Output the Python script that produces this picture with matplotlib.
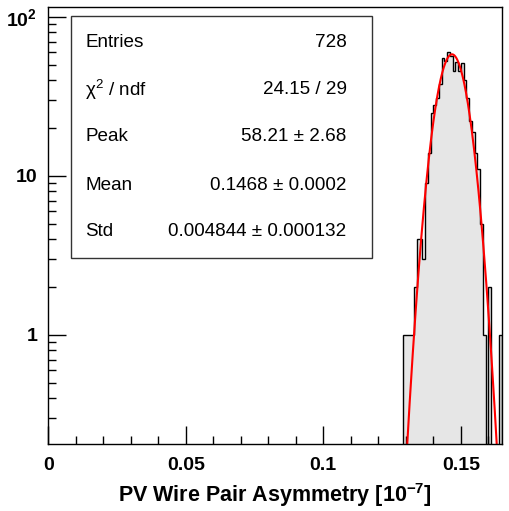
import numpy as np
import matplotlib
matplotlib.use("Agg")
from matplotlib import pyplot as plt
from matplotlib.patches import Rectangle
from matplotlib.ticker import FixedLocator, FixedFormatter, NullFormatter

plt.rcParams['font.family'] = ['Liberation Sans', 'DejaVu Sans']
plt.rcParams['mathtext.fontset'] = 'custom'
plt.rcParams['mathtext.rm'] = 'Liberation Sans'
plt.rcParams['mathtext.it'] = 'Liberation Sans:italic'
plt.rcParams['mathtext.bf'] = 'Liberation Sans:bold'

# histogram: bins of width 0.001 starting at 0.129
bin_start = 0.129
bin_width = 0.001
counts = [1, 1, 1, 1, 2, 4, 4, 3, 9, 14, 25, 28, 31, 38, 55, 53, 60, 57,
          46, 52, 46, 51, 40, 31, 22, 19, 14, 11, 5, 1, 0, 2, 0, 0, 0, 1]

# fit / stats box
peak, mean, std = 58.21, 0.1468, 0.004844
stat_names = ["Entries", "χ$^{2}$ / ndf", "Peak", "Mean", "Std"]
stat_values = ["728", "24.15 / 29", "58.21 ± 2.68", "0.1468 ± 0.0002",
               "0.004844 ± 0.000132"]

x_ticks = [0, 0.05, 0.1, 0.15]
x_tick_labels = ["0", "0.05", "0.1", "0.15"]
y_ticks = [1, 10, 100]
y_tick_labels = ["1", "10", r"10$^{\mathbf{2}}$"]


def main():
    counts_arr = np.array(counts, dtype=float)
    edges = bin_start + bin_width * np.arange(len(counts) + 1)
    draw_vals = np.where(counts_arr > 0, counts_arr, 1e-3)

    fig = plt.figure(figsize=(5.09, 5.11), dpi=100)
    ax = fig.add_axes([0.0949, 0.1305, 0.8914, 0.8564])

    ax.stairs(draw_vals, edges, baseline=1e-3, fill=True, color='#e6e6e6')
    ax.stairs(draw_vals, edges, baseline=1e-3, fill=False, color='black', lw=1.0)

    xf = np.linspace(edges[0], edges[-1], 400)
    yf = peak * np.exp(-0.5 * ((xf - mean) / std) ** 2)
    ax.plot(xf, yf, color='red', lw=1.5)

    ax.set_yscale('log')
    ax.set_xlim(0, 0.165)
    ax.set_ylim(0.205, 116)

    ax.xaxis.set_major_locator(FixedLocator(x_ticks))
    ax.xaxis.set_major_formatter(FixedFormatter(x_tick_labels))
    ax.xaxis.set_minor_locator(FixedLocator(np.arange(0, 0.1651, 0.01)))
    ax.yaxis.set_major_locator(FixedLocator(y_ticks))
    ax.yaxis.set_major_formatter(FixedFormatter(y_tick_labels))
    minors = [m * 10.0 ** d for d in (-1, 0, 1, 2) for m in range(2, 10)]
    ax.yaxis.set_minor_locator(FixedLocator(minors))
    ax.yaxis.set_minor_formatter(NullFormatter())

    ax.tick_params(which='both', direction='in', top=False, right=False,
                   width=1.0, color='black')
    ax.tick_params(which='major', length=13)
    ax.tick_params(which='minor', length=6)
    ax.tick_params(axis='x', which='major', labelsize=14, pad=9)
    ax.tick_params(axis='y', which='major', labelsize=14, pad=8)
    for lab in ax.get_xticklabels() + ax.get_yticklabels():
        lab.set_fontweight('bold')
    for sp in ax.spines.values():
        sp.set_linewidth(1.0)

    ax.set_xlabel(r"PV Wire Pair Asymmetry [10$^{\mathbf{-7}}$]",
                  fontsize=15.5, fontweight='bold', labelpad=5)

    # stats box
    box = Rectangle((0.1395, 0.4951), 0.5913, 0.4736, transform=fig.transFigure,
                    facecolor='white', edgecolor='#333333', lw=1.0, zorder=5)
    fig.add_artist(box)
    rows_px = [42.3, 90, 136.7, 185, 231.7]
    for name, val, ypx in zip(stat_names, stat_values, rows_px):
        yy = 1 - ypx / 511
        fig.text(0.167, yy, name, fontsize=13.6, va='center', ha='left', zorder=6)
        fig.text(0.681, yy, val, fontsize=13.6, va='center', ha='right', zorder=6)

    plt.savefig('out.png', dpi=100)


if __name__ == '__main__':
    main()
